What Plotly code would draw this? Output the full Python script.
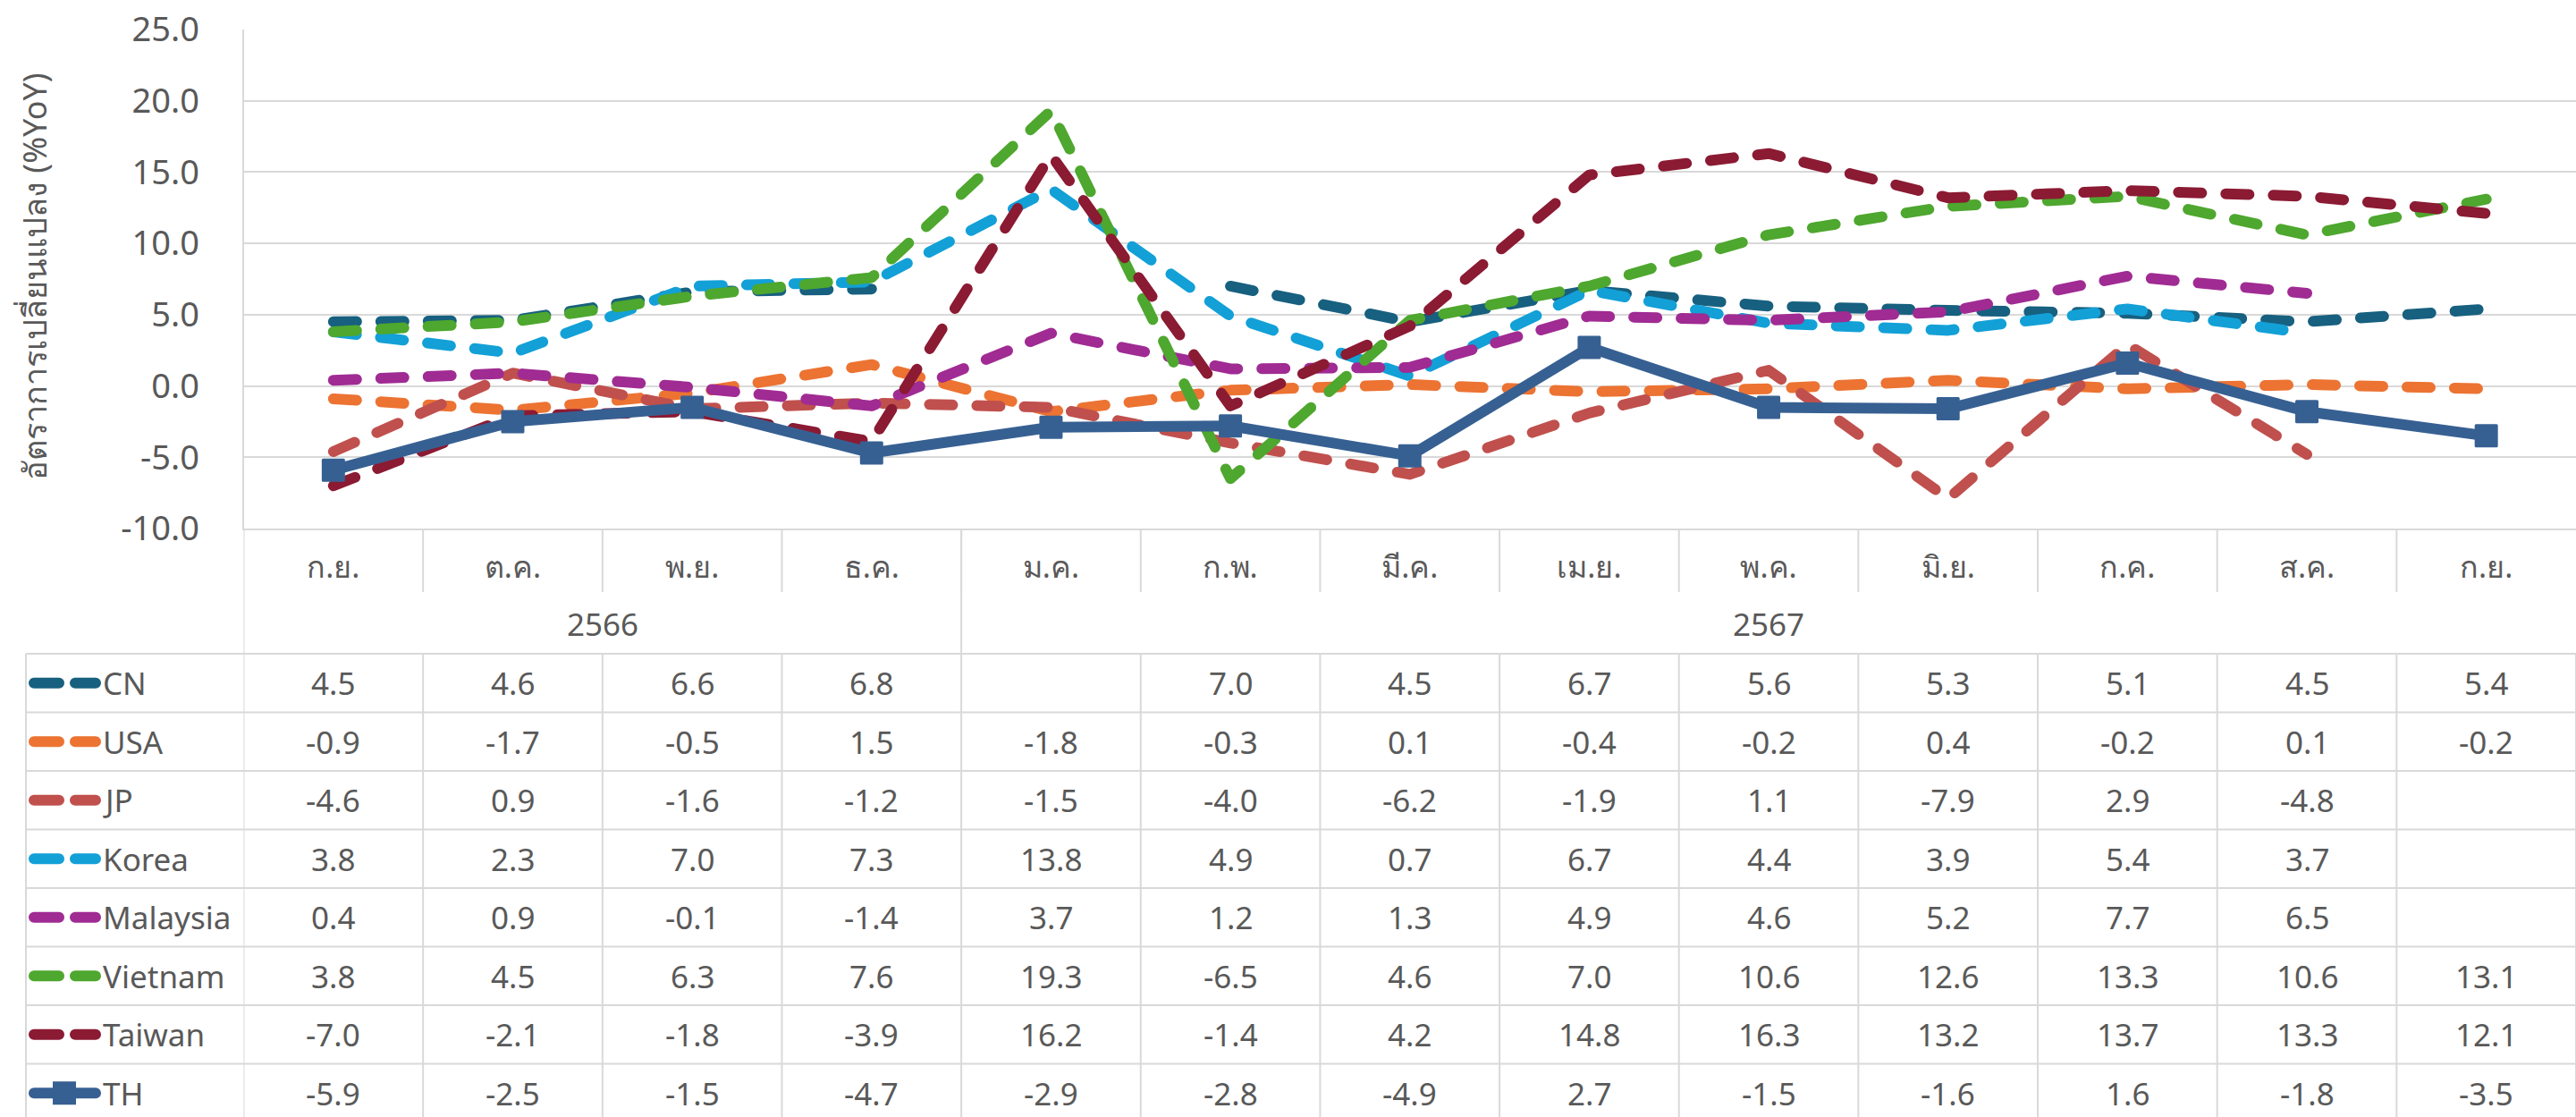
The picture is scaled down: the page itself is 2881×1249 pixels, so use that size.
import plotly.graph_objects as go

W, H = 2881, 1249

# ---------------- data ----------------
categories = ["ก.ย.", "ต.ค.", "พ.ย.", "ธ.ค.", "ม.ค.", "ก.พ.", "มี.ค.", "เม.ย.", "พ.ค.", "มิ.ย.", "ก.ค.", "ส.ค.", "ก.ย."]
years = ["2566", "2567"]
year_first_idx = [0, 4]
year_last_idx = [3, 12]

y_tick_values = [-10, -5, 0, 5, 10, 15, 20, 25]
y_tick_labels = ["-10.0", "-5.0", "0.0", "5.0", "10.0", "15.0", "20.0", "25.0"]
y_title = "อัตราการเปลี่ยนแปลง (%YoY)"

series_names = ["CN", "USA", "JP", "Korea", "Malaysia", "Vietnam", "Taiwan", "TH"]
cn = [4.5, 4.6, 6.6, 6.8, None, 7.0, 4.5, 6.7, 5.6, 5.3, 5.1, 4.5, 5.4]
usa = [-0.9, -1.7, -0.5, 1.5, -1.8, -0.3, 0.1, -0.4, -0.2, 0.4, -0.2, 0.1, -0.2]
jp = [-4.6, 0.9, -1.6, -1.2, -1.5, -4.0, -6.2, -1.9, 1.1, -7.9, 2.9, -4.8, None]
korea = [3.8, 2.3, 7.0, 7.3, 13.8, 4.9, 0.7, 6.7, 4.4, 3.9, 5.4, 3.7, None]
malaysia = [0.4, 0.9, -0.1, -1.4, 3.7, 1.2, 1.3, 4.9, 4.6, 5.2, 7.7, 6.5, None]
vietnam = [3.8, 4.5, 6.3, 7.6, 19.3, -6.5, 4.6, 7.0, 10.6, 12.6, 13.3, 10.6, 13.1]
taiwan = [-7.0, -2.1, -1.8, -3.9, 16.2, -1.4, 4.2, 14.8, 16.3, 13.2, 13.7, 13.3, 12.1]
th = [-5.9, -2.5, -1.5, -4.7, -2.9, -2.8, -4.9, 2.7, -1.5, -1.6, 1.6, -1.8, -3.5]
series_values = [cn, usa, jp, korea, malaysia, vietnam, taiwan, th]

# ---------------- style ----------------
colors = ["#17607F", "#EC7332", "#C0504D", "#12A0D7", "#A02B93", "#4EA72E", "#8B1A33", "#376092"]
solid = [False] * 7 + [True]
FONT = "Noto Sans, Lato, sans-serif"
TXT = "#595959"
GRID = "#D9D9D9"
LW = 12
DASH = "26px,27px"


def px(x):
    return x / W


def py(y):
    return 1 - y / H


PLOT_L, PLOT_T, PLOT_B = 272.5, 33, 591
TABLE_T, ROW_H = 731, 65.5
TABLE_L = 29

fig = go.Figure()
xs = list(range(len(categories)))
for name, vals, col, sol in zip(series_names, series_values, colors, solid):
    if sol:
        fig.add_trace(go.Scatter(x=xs, y=vals, name=name, mode="lines+markers",
                                 line=dict(color=col, width=LW),
                                 marker=dict(symbol="square", size=23, color=col,
                                             line=dict(color=col, width=3)),
                                 connectgaps=False, hoverinfo="skip"))
    else:
        fig.add_trace(go.Scatter(x=xs, y=vals, name=name, mode="lines",
                                 line=dict(color=col, width=LW, dash=DASH),
                                 connectgaps=False, hoverinfo="skip"))

shapes = []
annotations = []


def vline_data(x, y0, y1):
    shapes.append(dict(type="line", xref="x", yref="paper", x0=x, x1=x,
                       y0=py(y0), y1=py(y1), line=dict(color=GRID, width=2)))


# category-row separators
for i in range(len(categories) - 1):
    vline_data(i + 0.5, PLOT_B, 662)
# left border of category & year rows, and year separator
vline_data(-0.5, PLOT_B, TABLE_T)
for yi in range(1, len(years)):
    vline_data(year_first_idx[yi] - 0.5, PLOT_B, TABLE_T)

# year labels
for yr, a, b in zip(years, year_first_idx, year_last_idx):
    annotations.append(dict(text=yr, xref="x", yref="paper", x=(a + b) / 2, y=py(697),
                            showarrow=False, xanchor="center", yanchor="middle",
                            font=dict(family=FONT, size=35, color=TXT)))

# table grid
n_rows = len(series_names)
for r in range(n_rows + 1):
    yy = TABLE_T + r * ROW_H
    shapes.append(dict(type="line", xref="paper", yref="paper", x0=px(TABLE_L), x1=1,
                       y0=py(yy), y1=py(yy), line=dict(color=GRID, width=2)))
table_bottom = TABLE_T + n_rows * ROW_H
shapes.append(dict(type="line", xref="paper", yref="paper", x0=px(TABLE_L), x1=px(TABLE_L),
                   y0=py(TABLE_T), y1=py(table_bottom), line=dict(color=GRID, width=2)))
for i in range(len(categories) + 1):
    vline_data(i - 0.5, TABLE_T, table_bottom)

# table cells + legend keys
for r, (name, vals, col, sol) in enumerate(zip(series_names, series_values, colors, solid)):
    yc = TABLE_T + (r + 0.5) * ROW_H
    for i, v in enumerate(vals):
        if v is None:
            continue
        annotations.append(dict(text=f"{v:.1f}", xref="x", yref="paper", x=i, y=py(yc),
                                showarrow=False, xanchor="center", yanchor="middle",
                                font=dict(family=FONT, size=35, color=TXT)))
    annotations.append(dict(text=name, xref="paper", yref="paper", x=px(113), y=py(yc),
                            showarrow=False, xanchor="left", yanchor="middle",
                            font=dict(family=FONT, size=35, color=TXT)))
    if sol:
        shapes.append(dict(type="line", xref="paper", yref="paper", x0=px(38), x1=px(107),
                           y0=py(yc), y1=py(yc), line=dict(color=col, width=12)))
        shapes.append(dict(type="rect", xref="paper", yref="paper", x0=px(59), x1=px(85),
                           y0=py(yc - 13), y1=py(yc + 13), fillcolor=col,
                           line=dict(color=col, width=0)))
    else:
        shapes.append(dict(type="line", xref="paper", yref="paper", x0=px(38), x1=px(107),
                           y0=py(yc), y1=py(yc), line=dict(color=col, width=12, dash="28px,18px")))

# y axis title
annotations.append(dict(text=y_title, xref="paper", yref="paper", x=px(38),
                        y=py((PLOT_T + PLOT_B) / 2 - 3), textangle=-90, showarrow=False,
                        xanchor="center", yanchor="middle",
                        font=dict(family=FONT, size=36, color=TXT)))

fig.update_layout(
    width=W, height=H, margin=dict(l=0, r=0, t=0, b=0, autoexpand=False),
    paper_bgcolor="white", plot_bgcolor="white", showlegend=False,
    font=dict(family=FONT, size=35, color=TXT),
    shapes=shapes, annotations=annotations,
    xaxis=dict(domain=[px(PLOT_L), 1], range=[-0.5, len(categories) - 0.5],
               tickvals=xs, ticktext=categories, ticks="", showgrid=False,
               showline=True, linecolor=GRID, linewidth=2, zeroline=False,
               automargin=False,
               ticklabelstandoff=12, tickfont=dict(family=FONT, size=34, color=TXT)),
    yaxis=dict(domain=[py(PLOT_B), py(PLOT_T)], range=[-10, 25],
               tickvals=y_tick_values, ticktext=y_tick_labels, ticks="",
               showgrid=True, gridcolor=GRID, gridwidth=2, zeroline=False,
               showline=True, linecolor=GRID, linewidth=2, automargin=False,
               ticklabelstandoff=40, tickfont=dict(family=FONT, size=38, color=TXT)),
)

post = """
(function(){
  document.documentElement.style.margin='0';
  document.documentElement.style.padding='0';
  document.documentElement.style.overflow='hidden';
  document.body.style.margin='0';
  document.body.style.padding='0';
  document.body.style.overflow='hidden';
  var gd = document.getElementById('{plot_id}');
  function rc(){
    gd.querySelectorAll('.scatterlayer path.js-line').forEach(function(p){
      p.style.strokeLinecap='round'; p.style.strokeLinejoin='round';});
    gd.querySelectorAll('.shapelayer path').forEach(function(p){
      if (parseFloat(p.style.strokeWidth) > 5) { p.style.strokeLinecap='round'; }});
    gd.querySelectorAll('.scatterlayer path.point').forEach(function(p){
      p.style.strokeLinejoin='round';});
  }
  rc();
  if (gd.on) { gd.on('plotly_afterplot', rc); }
})();
"""

fig.write_html("out.html", post_script=post, config={"displayModeBar": False})
